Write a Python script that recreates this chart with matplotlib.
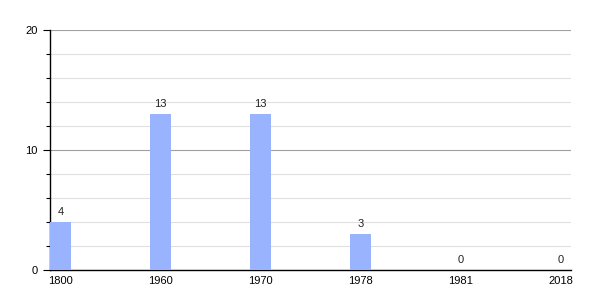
import matplotlib.pyplot as plt
from matplotlib.ticker import MultipleLocator

plt.rcParams["font.family"] = ["Liberation Sans", "DejaVu Sans"]

years = ["1800", "1960", "1970", "1978", "1981", "2018"]
values = [4, 13, 13, 3, 0, 0]

BAR_COLOR = "#99b3ff"

fig = plt.figure(figsize=(6, 3), dpi=100)
ax = fig.add_axes([50 / 600, 30 / 300, 521 / 600, 240 / 300])

pos = list(range(len(years)))
bars = ax.bar(pos, values, width=0.21, align="edge", color=BAR_COLOR, zorder=3)

# value labels above the bars
for x, v in zip(pos, values):
    ax.text(x + 0.105, v + 0.4, str(v), ha="center", va="bottom", fontsize=8, color="#222222")

ax.set_xlim(0, len(years) - 1 + 0.21)
ax.set_ylim(0, 20)
ax.set_xticks([p + 0.105 for p in pos])
ax.set_xticklabels(years)
ax.tick_params(axis="x", length=0, labelsize=8, pad=4)

ax.yaxis.set_major_locator(MultipleLocator(10))
ax.yaxis.set_minor_locator(MultipleLocator(2))
ax.tick_params(axis="y", which="major", length=5, width=0.8, labelsize=8, pad=4)
ax.tick_params(axis="y", which="minor", length=3, width=0.8)

ax.grid(axis="y", which="major", color="#a0a0a0", linewidth=0.8, zorder=0)
ax.grid(axis="y", which="minor", color="#e0e0e0", linewidth=0.8, zorder=0)

for side in ["top", "right"]:
    ax.spines[side].set_visible(False)
ax.spines["left"].set_linewidth(1)
ax.spines["bottom"].set_linewidth(1)

fig.savefig("out.png", dpi=100)
